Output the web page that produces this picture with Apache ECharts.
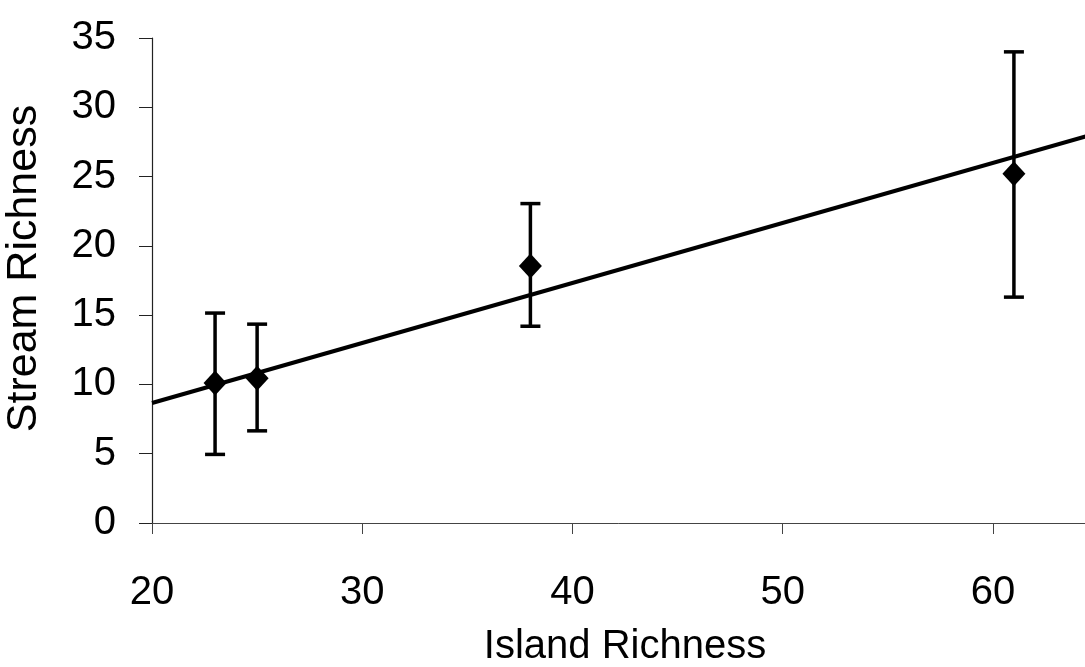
<!DOCTYPE html>
<html>
<head>
<meta charset="utf-8">
<script src="https://cdn.jsdelivr.net/npm/echarts@6/dist/echarts.min.js"></script>
<style>
  html, body { margin: 0; padding: 0; background: #fff; }
  #main { width: 1085px; height: 667px; }
</style>
</head>
<body>
<div id="main"></div>
<script>
// island richness (x) and stream richness means with error range
const islandRichness = [23, 25, 38, 61]
const streamMean = [10.1, 10.45, 18.55, 25.2]
const streamLow = [4.95, 6.65, 14.2, 16.3]
const streamHigh = [15.15, 14.35, 23.05, 34.0]

// fitted regression line end points
const fitX = [20, 65]
const fitY = [8.66, 28.15]

const xTicks = [20, 30, 40, 50, 60]
const yTicks = [0, 5, 10, 15, 20, 25, 30, 35]

const font = "'Liberation Sans', Arial, sans-serif"

let myChart = echarts.init(document.getElementById('main'))

let errData = islandRichness.map(function (x, i) {
    return [x, streamLow[i], streamHigh[i]]
})

let option = {
    backgroundColor: '#fff',
    animation: false,
    grid: {
        left: 152,
        top: 38,
        right: -13,
        bottom: 144,
        outerBoundsMode: 'none'
    },
    xAxis: {
        type: 'value',
        min: xTicks[0],
        max: 65,
        interval: 10,
        name: 'Island Richness',
        nameLocation: 'middle',
        nameGap: 104,
        nameTextStyle: { color: '#000', fontSize: 40, fontFamily: font },
        axisLine: { show: true, onZero: false, lineStyle: { color: '#444', width: 1 } },
        axisTick: { show: true, inside: false, length: 11, lineStyle: { color: '#444', width: 1 } },
        axisLabel: {
            color: '#000', fontSize: 40, fontFamily: font, margin: 50,
            showMaxLabel: false,
            formatter: function (v) { return xTicks.indexOf(v) >= 0 ? v : '' }
        },
        splitLine: { show: false }
    },
    yAxis: {
        type: 'value',
        min: yTicks[0],
        max: yTicks[yTicks.length - 1],
        interval: 5,
        name: 'Stream Richness',
        nameLocation: 'middle',
        nameGap: 106,
        nameTextStyle: { color: '#000', fontSize: 43, fontFamily: font, padding: [0, 0, 0, 24] },
        axisLine: { show: true, lineStyle: { color: '#222', width: 1.2 } },
        axisTick: { show: true, inside: false, length: 13, lineStyle: { color: '#222', width: 1 } },
        axisLabel: { color: '#000', fontSize: 40, fontFamily: font, margin: 36 },
        splitLine: { show: false }
    },
    series: [
        {
            name: 'fit',
            type: 'line',
            data: fitX.map(function (x, i) { return [x, fitY[i]] }),
            symbol: 'none',
            lineStyle: { color: '#000', width: 4 },
            z: 2
        },
        {
            name: 'error',
            type: 'custom',
            data: errData,
            renderItem: function (params, api) {
                let x = api.value(0)
                let low = api.coord([x, api.value(1)])
                let high = api.coord([x, api.value(2)])
                let half = 10
                let style = { stroke: '#000', lineWidth: 3.5 }
                return {
                    type: 'group',
                    children: [
                        { type: 'line', shape: { x1: low[0], y1: low[1], x2: high[0], y2: high[1] }, style: style },
                        { type: 'line', shape: { x1: high[0] - half, y1: high[1], x2: high[0] + half, y2: high[1] }, style: style },
                        { type: 'line', shape: { x1: low[0] - half, y1: low[1], x2: low[0] + half, y2: low[1] }, style: style }
                    ]
                }
            },
            z: 3
        },
        {
            name: 'mean',
            type: 'scatter',
            data: islandRichness.map(function (x, i) { return [x, streamMean[i]] }),
            symbol: 'diamond',
            symbolSize: [23, 25],
            itemStyle: { color: '#000', opacity: 1 },
            z: 4
        }
    ]
}

myChart.setOption(option)
</script>
</body>
</html>
